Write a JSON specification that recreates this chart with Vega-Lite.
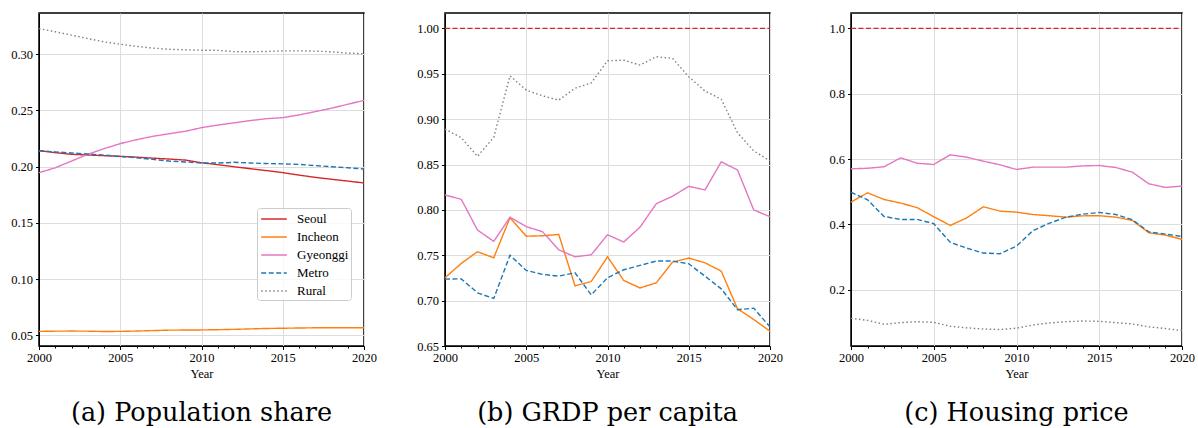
{
  "$schema": "https://vega.github.io/schema/vega-lite/v6.json",
  "padding": {"top": 12, "left": 9, "right": 0, "bottom": 0},
  "background": "white",
  "config": {
    "font": "Liberation Serif",
    "view": {"stroke": "#000000", "strokeWidth": 1.5},
    "axis": {"labelFont": "Liberation Serif", "labelFontSize": 12.5, "labelColor": "#000000", "titleFont": "Liberation Serif", "titleFontSize": 12.5, "titleFontWeight": "normal", "titleColor": "#000000", "tickColor": "#000000", "domainColor": "#000000", "gridColor": "#dddddd", "gridWidth": 1, "tickSize": 3.5, "labelPadding": 3},
    "axisX": {"labelPadding": 2, "titlePadding": 3, "labelFlush": false},
    "title": {"font": "DejaVu Serif", "fontSize": 25.5, "fontWeight": "normal", "color": "#000000"}
  },
  "datasets": {
    "d": [
      {"year":2000,"region":"Seoul","pop":0.2142,"grdp":1,"house":1},
      {"year":2001,"region":"Seoul","pop":0.2125,"grdp":1,"house":1},
      {"year":2002,"region":"Seoul","pop":0.2110,"grdp":1,"house":1},
      {"year":2003,"region":"Seoul","pop":0.2104,"grdp":1,"house":1},
      {"year":2004,"region":"Seoul","pop":0.2098,"grdp":1,"house":1},
      {"year":2005,"region":"Seoul","pop":0.2092,"grdp":1,"house":1},
      {"year":2006,"region":"Seoul","pop":0.2085,"grdp":1,"house":1},
      {"year":2007,"region":"Seoul","pop":0.2076,"grdp":1,"house":1},
      {"year":2008,"region":"Seoul","pop":0.2068,"grdp":1,"house":1},
      {"year":2009,"region":"Seoul","pop":0.2059,"grdp":1,"house":1},
      {"year":2010,"region":"Seoul","pop":0.2035,"grdp":1,"house":1},
      {"year":2011,"region":"Seoul","pop":0.2018,"grdp":1,"house":1},
      {"year":2012,"region":"Seoul","pop":0.2000,"grdp":1,"house":1},
      {"year":2013,"region":"Seoul","pop":0.1982,"grdp":1,"house":1},
      {"year":2014,"region":"Seoul","pop":0.1965,"grdp":1,"house":1},
      {"year":2015,"region":"Seoul","pop":0.1947,"grdp":1,"house":1},
      {"year":2016,"region":"Seoul","pop":0.1925,"grdp":1,"house":1},
      {"year":2017,"region":"Seoul","pop":0.1905,"grdp":1,"house":1},
      {"year":2018,"region":"Seoul","pop":0.1888,"grdp":1,"house":1},
      {"year":2019,"region":"Seoul","pop":0.1872,"grdp":1,"house":1},
      {"year":2020,"region":"Seoul","pop":0.1855,"grdp":1,"house":1},
      {"year":2000,"region":"Incheon","pop":0.0535,"grdp":0.7252,"house":0.468},
      {"year":2001,"region":"Incheon","pop":0.0537,"grdp":0.741,"house":0.4966},
      {"year":2002,"region":"Incheon","pop":0.0538,"grdp":0.7539,"house":0.476},
      {"year":2003,"region":"Incheon","pop":0.0537,"grdp":0.7472,"house":0.465},
      {"year":2004,"region":"Incheon","pop":0.0534,"grdp":0.7914,"house":0.451},
      {"year":2005,"region":"Incheon","pop":0.0535,"grdp":0.771,"house":0.4233},
      {"year":2006,"region":"Incheon","pop":0.0538,"grdp":0.7715,"house":0.3966},
      {"year":2007,"region":"Incheon","pop":0.0542,"grdp":0.773,"house":0.42},
      {"year":2008,"region":"Incheon","pop":0.0546,"grdp":0.7163,"house":0.4538},
      {"year":2009,"region":"Incheon","pop":0.0547,"grdp":0.7211,"house":0.4404},
      {"year":2010,"region":"Incheon","pop":0.0548,"grdp":0.7483,"house":0.4373},
      {"year":2011,"region":"Incheon","pop":0.055,"grdp":0.7222,"house":0.43},
      {"year":2012,"region":"Incheon","pop":0.0553,"grdp":0.714,"house":0.4263},
      {"year":2013,"region":"Incheon","pop":0.0557,"grdp":0.7196,"house":0.422},
      {"year":2014,"region":"Incheon","pop":0.0561,"grdp":0.7424,"house":0.426},
      {"year":2015,"region":"Incheon","pop":0.0563,"grdp":0.7469,"house":0.4263},
      {"year":2016,"region":"Incheon","pop":0.0565,"grdp":0.7417,"house":0.422},
      {"year":2017,"region":"Incheon","pop":0.0567,"grdp":0.7325,"house":0.412},
      {"year":2018,"region":"Incheon","pop":0.0567,"grdp":0.691,"house":0.374},
      {"year":2019,"region":"Incheon","pop":0.0568,"grdp":0.6792,"house":0.367},
      {"year":2020,"region":"Incheon","pop":0.0568,"grdp":0.6663,"house":0.354},
      {"year":2000,"region":"Gyeonggi","pop":0.1947,"grdp":0.8164,"house":0.57},
      {"year":2001,"region":"Gyeonggi","pop":0.199,"grdp":0.8117,"house":0.5717},
      {"year":2002,"region":"Gyeonggi","pop":0.205,"grdp":0.7778,"house":0.5762},
      {"year":2003,"region":"Gyeonggi","pop":0.211,"grdp":0.7653,"house":0.6036},
      {"year":2004,"region":"Gyeonggi","pop":0.216,"grdp":0.792,"house":0.587},
      {"year":2005,"region":"Gyeonggi","pop":0.2205,"grdp":0.7815,"house":0.5832},
      {"year":2006,"region":"Gyeonggi","pop":0.224,"grdp":0.776,"house":0.6128},
      {"year":2007,"region":"Gyeonggi","pop":0.227,"grdp":0.756,"house":0.6055},
      {"year":2008,"region":"Gyeonggi","pop":0.2293,"grdp":0.7483,"house":0.5933},
      {"year":2009,"region":"Gyeonggi","pop":0.2315,"grdp":0.7505,"house":0.5823},
      {"year":2010,"region":"Gyeonggi","pop":0.2347,"grdp":0.7726,"house":0.568},
      {"year":2011,"region":"Gyeonggi","pop":0.237,"grdp":0.7646,"house":0.575},
      {"year":2012,"region":"Gyeonggi","pop":0.239,"grdp":0.781,"house":0.575},
      {"year":2013,"region":"Gyeonggi","pop":0.241,"grdp":0.8068,"house":0.575},
      {"year":2014,"region":"Gyeonggi","pop":0.2427,"grdp":0.815,"house":0.579},
      {"year":2015,"region":"Gyeonggi","pop":0.2436,"grdp":0.826,"house":0.58},
      {"year":2016,"region":"Gyeonggi","pop":0.246,"grdp":0.822,"house":0.574},
      {"year":2017,"region":"Gyeonggi","pop":0.249,"grdp":0.853,"house":0.5597},
      {"year":2018,"region":"Gyeonggi","pop":0.252,"grdp":0.844,"house":0.524},
      {"year":2019,"region":"Gyeonggi","pop":0.2555,"grdp":0.7999,"house":0.513},
      {"year":2020,"region":"Gyeonggi","pop":0.259,"grdp":0.7925,"house":0.517},
      {"year":2000,"region":"Metro","pop":0.2142,"grdp":0.7237,"house":0.4985},
      {"year":2001,"region":"Metro","pop":0.2132,"grdp":0.724,"house":0.475},
      {"year":2002,"region":"Metro","pop":0.2122,"grdp":0.7086,"house":0.424},
      {"year":2003,"region":"Metro","pop":0.2113,"grdp":0.7024,"house":0.415},
      {"year":2004,"region":"Metro","pop":0.2103,"grdp":0.75,"house":0.415},
      {"year":2005,"region":"Metro","pop":0.209,"grdp":0.7333,"house":0.402},
      {"year":2006,"region":"Metro","pop":0.208,"grdp":0.7289,"house":0.3447},
      {"year":2007,"region":"Metro","pop":0.2065,"grdp":0.727,"house":0.327},
      {"year":2008,"region":"Metro","pop":0.205,"grdp":0.7307,"house":0.312},
      {"year":2009,"region":"Metro","pop":0.2042,"grdp":0.7064,"house":0.31},
      {"year":2010,"region":"Metro","pop":0.2033,"grdp":0.7252,"house":0.3333},
      {"year":2011,"region":"Metro","pop":0.2032,"grdp":0.734,"house":0.381},
      {"year":2012,"region":"Metro","pop":0.2039,"grdp":0.7388,"house":0.4036},
      {"year":2013,"region":"Metro","pop":0.2033,"grdp":0.7436,"house":0.422},
      {"year":2014,"region":"Metro","pop":0.2028,"grdp":0.7436,"house":0.431},
      {"year":2015,"region":"Metro","pop":0.2025,"grdp":0.7406,"house":0.4364},
      {"year":2016,"region":"Metro","pop":0.202,"grdp":0.727,"house":0.43},
      {"year":2017,"region":"Metro","pop":0.201,"grdp":0.713,"house":0.414},
      {"year":2018,"region":"Metro","pop":0.2,"grdp":0.69,"house":0.377},
      {"year":2019,"region":"Metro","pop":0.199,"grdp":0.6917,"house":0.37},
      {"year":2020,"region":"Metro","pop":0.198,"grdp":0.671,"house":0.363},
      {"year":2000,"region":"Rural","pop":0.3228,"grdp":0.889,"house":0.1122},
      {"year":2001,"region":"Rural","pop":0.32,"grdp":0.8797,"house":0.106},
      {"year":2002,"region":"Rural","pop":0.317,"grdp":0.859,"house":0.0939},
      {"year":2003,"region":"Rural","pop":0.314,"grdp":0.88,"house":0.099},
      {"year":2004,"region":"Rural","pop":0.311,"grdp":0.9478,"house":0.102},
      {"year":2005,"region":"Rural","pop":0.3089,"grdp":0.932,"house":0.1},
      {"year":2006,"region":"Rural","pop":0.307,"grdp":0.9257,"house":0.0878},
      {"year":2007,"region":"Rural","pop":0.3055,"grdp":0.921,"house":0.083},
      {"year":2008,"region":"Rural","pop":0.3044,"grdp":0.934,"house":0.0796},
      {"year":2009,"region":"Rural","pop":0.304,"grdp":0.94,"house":0.078},
      {"year":2010,"region":"Rural","pop":0.3036,"grdp":0.9643,"house":0.082},
      {"year":2011,"region":"Rural","pop":0.3035,"grdp":0.965,"house":0.092},
      {"year":2012,"region":"Rural","pop":0.3023,"grdp":0.9596,"house":0.098},
      {"year":2013,"region":"Rural","pop":0.3022,"grdp":0.9688,"house":0.102},
      {"year":2014,"region":"Rural","pop":0.3025,"grdp":0.967,"house":0.104},
      {"year":2015,"region":"Rural","pop":0.303,"grdp":0.9467,"house":0.103},
      {"year":2016,"region":"Rural","pop":0.303,"grdp":0.931,"house":0.099},
      {"year":2017,"region":"Rural","pop":0.3028,"grdp":0.922,"house":0.095},
      {"year":2018,"region":"Rural","pop":0.3022,"grdp":0.885,"house":0.086},
      {"year":2019,"region":"Rural","pop":0.301,"grdp":0.865,"house":0.081},
      {"year":2020,"region":"Rural","pop":0.3005,"grdp":0.854,"house":0.0746}
    ]
  },
  "bounds": "flush",
  "spacing": 81,
  "resolve": {"scale": {"color": "independent", "strokeDash": "independent"}},
  "hconcat": [
    {
      "width": 325, "height": 333,
      "data": {"name": "d"},
      "title": {"text": "(a) Population share", "orient": "bottom", "anchor": "middle", "frame": "group", "offset": 21},
      "mark": {"type": "line", "strokeWidth": 1.4, "clip": true},
      "encoding": {
        "x": {"field": "year", "type": "quantitative", "title": "Year", "scale": {"domain": [2000, 2020], "nice": false, "zero": false},
          "axis": {"values": [2000,2001,2002,2003,2004,2005,2006,2007,2008,2009,2010,2011,2012,2013,2014,2015,2016,2017,2018,2019,2020], "format": "d",
            "labelExpr": "datum.value % 5 === 0 ? datum.label : ''",
            "gridOpacity": {"condition": {"test": "datum.value % 5 === 0", "value": 1}, "value": 0},
            "tickSize": {"condition": {"test": "datum.value % 5 === 0", "value": 3.5}, "value": 2}}},
        "y": {"field": "pop", "type": "quantitative", "title": null, "scale": {"domain": [0.0405, 0.3367], "nice": false, "zero": false},
          "axis": {"values": [0.05, 0.1, 0.15, 0.2, 0.25, 0.3], "format": ".2f"}},
        "color": {"field": "region", "type": "nominal", "sort": null,
          "scale": {"domain": ["Seoul", "Incheon", "Gyeonggi", "Metro", "Rural"], "range": ["#d62728", "#ff7f0e", "#e377c2", "#1f77b4", "#7f7f7f"]},
          "legend": {"title": null, "orient": "none", "legendX": 218, "legendY": 195, "symbolType": "M-1.6,0H1.6", "symbolSize": 256, "symbolStrokeWidth": 1.6, "symbolOffset": 6, "labelFontSize": 13, "labelFont": "Liberation Serif", "labelColor": "#000000", "rowPadding": 2, "padding": 2, "fillColor": "rgba(255,255,255,0.8)", "strokeColor": "#cccccc", "cornerRadius": 3, "labelOffset": 14}},
        "strokeDash": {"field": "region", "type": "nominal", "sort": null,
          "scale": {"domain": ["Seoul", "Incheon", "Gyeonggi", "Metro", "Rural"], "range": [[1, 0], [1, 0], [1, 0], [5, 2.5], [1.5, 2.5]]},
          "legend": {"title": null, "orient": "none", "legendX": 218, "legendY": 195, "symbolType": "M-1.6,0H1.6", "symbolSize": 256, "symbolStrokeWidth": 1.6, "symbolOffset": 6, "labelFontSize": 13, "labelFont": "Liberation Serif", "labelColor": "#000000", "rowPadding": 2, "padding": 2, "fillColor": "rgba(255,255,255,0.8)", "strokeColor": "#cccccc", "cornerRadius": 3, "labelOffset": 14}}
      }
    },
    {
      "width": 325, "height": 333,
      "data": {"name": "d"},
      "title": {"text": "(b) GRDP per capita", "orient": "bottom", "anchor": "middle", "frame": "group", "offset": 21},
      "encoding": {
        "x": {"field": "year", "type": "quantitative", "title": "Year", "scale": {"domain": [2000, 2020], "nice": false, "zero": false},
          "axis": {"values": [2000,2001,2002,2003,2004,2005,2006,2007,2008,2009,2010,2011,2012,2013,2014,2015,2016,2017,2018,2019,2020], "format": "d",
            "labelExpr": "datum.value % 5 === 0 ? datum.label : ''",
            "gridOpacity": {"condition": {"test": "datum.value % 5 === 0", "value": 1}, "value": 0},
            "tickSize": {"condition": {"test": "datum.value % 5 === 0", "value": 3.5}, "value": 2}}},
        "y": {"field": "grdp", "type": "quantitative", "title": null, "scale": {"domain": [0.65, 1.017], "nice": false, "zero": false},
          "axis": {"values": [0.65, 0.7, 0.75, 0.8, 0.85, 0.9, 0.95, 1.0], "format": ".2f"}}
      },
      "layer": [
        {
          "transform": [{"filter": "datum.region !== 'Seoul'"}],
          "mark": {"type": "line", "strokeWidth": 1.4, "clip": true},
          "encoding": {
            "color": {"field": "region", "type": "nominal", "legend": null,
              "scale": {"domain": ["Seoul", "Incheon", "Gyeonggi", "Metro", "Rural"], "range": ["#d62728", "#ff7f0e", "#e377c2", "#1f77b4", "#7f7f7f"]}},
            "strokeDash": {"field": "region", "type": "nominal", "legend": null,
              "scale": {"domain": ["Seoul", "Incheon", "Gyeonggi", "Metro", "Rural"], "range": [[1, 0], [1, 0], [1, 0], [5, 2.5], [1.5, 2.5]]}}
          }
        },
        {
          "transform": [{"filter": "datum.region === 'Seoul'"}],
          "mark": {"type": "line", "strokeWidth": 1.2, "color": "#d62728", "strokeDash": [5, 2.5], "clip": true},
          "encoding": {}
        }
      ]
    },
    {
      "width": 331, "height": 333,
      "data": {"name": "d"},
      "title": {"text": "(c) Housing price", "orient": "bottom", "anchor": "middle", "frame": "group", "offset": 21},
      "encoding": {
        "x": {"field": "year", "type": "quantitative", "title": "Year", "scale": {"domain": [2000, 2020], "nice": false, "zero": false},
          "axis": {"values": [2000,2001,2002,2003,2004,2005,2006,2007,2008,2009,2010,2011,2012,2013,2014,2015,2016,2017,2018,2019,2020], "format": "d",
            "labelExpr": "datum.value % 5 === 0 ? datum.label : ''",
            "gridOpacity": {"condition": {"test": "datum.value % 5 === 0", "value": 1}, "value": 0},
            "tickSize": {"condition": {"test": "datum.value % 5 === 0", "value": 3.5}, "value": 2}}},
        "y": {"field": "house", "type": "quantitative", "title": null, "scale": {"domain": [0.0275, 1.047], "nice": false, "zero": false},
          "axis": {"values": [0.2, 0.4, 0.6, 0.8, 1.0], "format": ".1f"}}
      },
      "layer": [
        {
          "transform": [{"filter": "datum.region !== 'Seoul'"}],
          "mark": {"type": "line", "strokeWidth": 1.4, "clip": true},
          "encoding": {
            "color": {"field": "region", "type": "nominal", "legend": null,
              "scale": {"domain": ["Seoul", "Incheon", "Gyeonggi", "Metro", "Rural"], "range": ["#d62728", "#ff7f0e", "#e377c2", "#1f77b4", "#7f7f7f"]}},
            "strokeDash": {"field": "region", "type": "nominal", "legend": null,
              "scale": {"domain": ["Seoul", "Incheon", "Gyeonggi", "Metro", "Rural"], "range": [[1, 0], [1, 0], [1, 0], [5, 2.5], [1.5, 2.5]]}}
          }
        },
        {
          "transform": [{"filter": "datum.region === 'Seoul'"}],
          "mark": {"type": "line", "strokeWidth": 1.2, "color": "#d62728", "strokeDash": [5, 2.5], "clip": true},
          "encoding": {}
        }
      ]
    }
  ]
}
